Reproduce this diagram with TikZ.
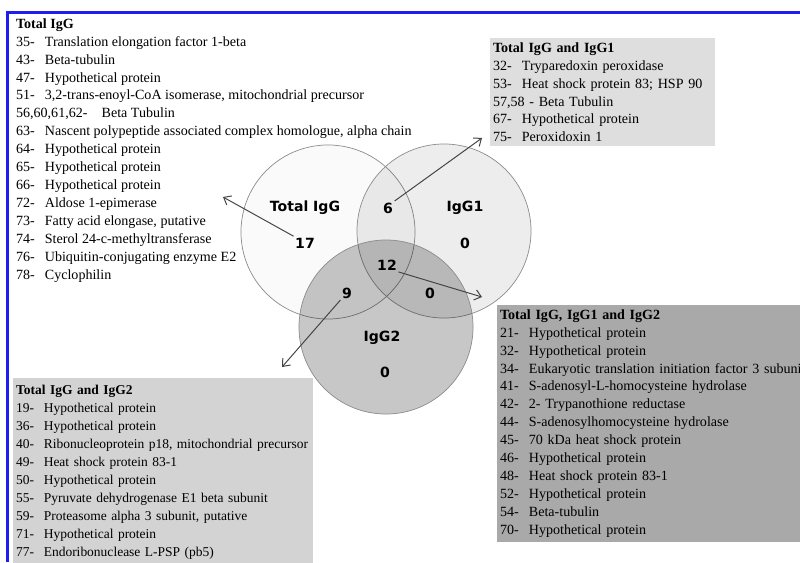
\documentclass[tikz,border=0pt]{standalone}
\usepackage{fontspec}
\setmainfont{Liberation Serif}
\newfontfamily\vennsans{DejaVu Sans}
\usetikzlibrary{arrows.meta,positioning}
\definecolor{frameblue}{HTML}{1E1EF0}
\definecolor{boxone}{HTML}{DEDEDE}
\definecolor{boxtwo}{HTML}{D3D3D3}
\definecolor{boxall}{HTML}{A9A9A9}
\definecolor{ringline}{HTML}{8C8C8C}
\definecolor{arrowgray}{HTML}{444444}
\newcommand{\itm}[2]{\makebox[2.05em][l]{#1}\mbox{#2}}
\tikzset{
  venn/set/.style={draw=ringline, line width=0.5pt, circle, minimum size=4.35cm, inner sep=0pt},
  venn/label/.style={font=\vennsans\bfseries\fontsize{10}{12}\selectfont, inner sep=1pt},
  list/.style={anchor=north west, align=left, font=\fontsize{10}{12.75}\selectfont, inner xsep=2pt, inner ysep=3pt},
  list/box/.style={list, text width=#1},
  ptr/.style={draw=arrowgray, line width=0.7pt, -{Straight Barb[length=1.6mm,width=2.6mm]}}
}

\begin{document}
\begin{tikzpicture}[x=0.025cm, y=-0.025cm]
\clip (0,0) rectangle (800,562);
\fill[white] (0,0) rectangle (800,562);

% Frame
\draw[frameblue, line width=2.2pt] (7.5,562) -- (7.5,12.5) -- (800,12.5);

% Total IgG only
\node[list] (lstTot) at (13,14) {\textbf{Total IgG}\\
  \itm{35-}{Translation elongation factor 1-beta}\\
  \itm{43-}{Beta-tubulin}\\
  \itm{47-}{Hypothetical protein}\\
  \itm{51-}{3,2-trans-enoyl-CoA isomerase, mitochondrial precursor}\\
  56,60,61,62-\quad Beta Tubulin\\
  \itm{63-}{Nascent polypeptide associated complex homologue, alpha chain}\\
  \itm{64-}{Hypothetical protein}\\
  \itm{65-}{Hypothetical protein}\\
  \itm{66-}{Hypothetical protein}\\
  \itm{72-}{Aldose 1-epimerase}\\
  \itm{73-}{Fatty acid elongase, putative}\\
  \itm{74-}{Sterol 24-c-methyltransferase}\\
  \itm{76-}{Ubiquitin-conjugating enzyme E2}\\
  \itm{78-}{Cyclophilin}};

% Total IgG and IgG1
\node[list/box=156pt, fill=boxone] (lstOne) at (490,38) {\textbf{Total IgG and IgG1}\\
  \itm{32-}{Tryparedoxin peroxidase}\\
  \itm{53-}{Heat shock protein 83; HSP 90}\\
  57,58 - Beta Tubulin\\
  \itm{67-}{Hypothetical protein}\\
  \itm{75-}{Peroxidoxin 1}};

% Total IgG and IgG2
\node[list/box=209pt, fill=boxtwo, inner ysep=5pt, font=\fontsize{9.6}{12.75}\selectfont] (lstTwo) at (13,378) {\textbf{Total IgG and IgG2}\\
  \itm{19-}{Hypothetical protein}\\
  \itm{36-}{Hypothetical protein}\\
  \itm{40-}{Ribonucleoprotein p18, mitochondrial precursor}\\
  \itm{49-}{Heat shock protein 83-1}\\
  \itm{50-}{Hypothetical protein}\\
  \itm{55-}{Pyruvate dehydrogenase E1 beta subunit}\\
  \itm{59-}{Proteasome alpha 3 subunit, putative}\\
  \itm{71-}{Hypothetical protein}\\
  \itm{77-}{Endoribonuclease L-PSP (pb5)}};

% Total IgG, IgG1 and IgG2
\node[list/box=232pt, fill=boxall] (lstAll) at (497,305) {\textbf{Total IgG, IgG1 and IgG2}\\
  \itm{21-}{Hypothetical protein}\\
  \itm{32-}{Hypothetical protein}\\
  \itm{34-}{Eukaryotic translation initiation factor 3 subunit}\\
  \itm{41-}{S-adenosyl-L-homocysteine hydrolase}\\
  \itm{42-}{2- Trypanothione reductase}\\
  \itm{44-}{S-adenosylhomocysteine hydrolase}\\
  \itm{45-}{70 kDa heat shock protein}\\
  \itm{46-}{Hypothetical protein}\\
  \itm{48-}{Heat shock protein 83-1}\\
  \itm{52-}{Hypothetical protein}\\
  \itm{54-}{Beta-tubulin}\\
  \itm{70-}{Hypothetical protein}};

% Venn circles
\node[venn/set, fill=black!2] (cTot) at (328,232) {};
\node[venn/set, fill=black, fill opacity=0.07] (cOne) at (444,231) {};
\node[venn/set, fill=black, fill opacity=0.22] (cTwo) at (386,327) {};

% Labels and counts
\node[venn/label] (tTot) at (305,208) {Total IgG};
\node[venn/label] (tOne) at (465,208) {IgG1};
\node[venn/label] (tTwo) at (382,338) {IgG2};
\node[venn/label] (n17) at (305,243) {17};
\node[venn/label] (n6)  at (388,208) {6};
\node[venn/label] (nOne) at (465,243) {0};
\node[venn/label] (n12) at (387,265) {12};
\node[venn/label] (n9)  at (347,293) {9};
\node[venn/label] (nOT) at (430,293) {0};
\node[venn/label] (nTwo) at (385,372) {0};

% Pointers to the lists
\coordinate (tip17) at (223,197);
\coordinate (tip6)  at (482,138);
\coordinate (tip12) at (482,297);
\coordinate (tip9)  at (282,367);
\draw[ptr] (n17.north west) -- (tip17);
\draw[ptr] (n6.north east) -- (tip6);
\draw[ptr] (n12.south east) -- (tip12);
\draw[ptr] (n9.south west) -- (tip9);
\end{tikzpicture}
\end{document}
